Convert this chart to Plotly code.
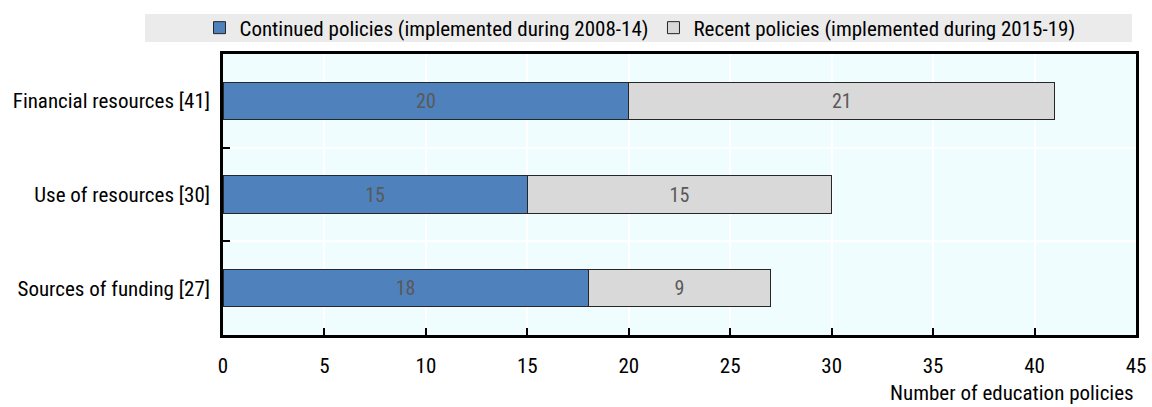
import plotly.graph_objects as go

categories = ["Financial resources [41]", "Use of resources [30]", "Sources of funding [27]"]
continued = [20, 15, 18]
recent = [21, 15, 9]
series_names = [
    "Continued policies (implemented during 2008-14)",
    "Recent policies (implemented during 2015-19)",
]
x_ticks = [0, 5, 10, 15, 20, 25, 30, 35, 40, 45]
x_title = "Number of education policies"

FONT = "Roboto Condensed, Arial Narrow, Roboto, sans-serif"
FS = 21

fig = go.Figure()
for vals, name, color in [
    (continued, series_names[0], "#4f81bd"),
    (recent, series_names[1], "#d9d9d9"),
]:
    fig.add_trace(go.Bar(
        y=categories, x=vals, name=name, orientation="h",
        marker=dict(color=color, line=dict(color="#262626", width=1)),
        text=[str(v) for v in vals], textposition="inside",
        insidetextanchor="middle",
        textfont=dict(color="#595959", size=20, family=FONT),
        width=0.4, hoverinfo="skip",
    ))

W, H = 1152, 407
L, R, T, B = 223, 16, 54, 72
pw, ph = W - L - R, H - T - B

def px_x(x):
    return (x - L) / pw

def px_y(y):
    return (H - B - y) / ph

fig.update_layout(
    width=W, height=H, barmode="stack",
    margin=dict(l=L, r=R, t=T, b=B, autoexpand=False),
    paper_bgcolor="white", plot_bgcolor="#f0fdff",
    font=dict(family=FONT, size=FS, color="black"),
    showlegend=True,
    legend=dict(
        orientation="h", x=px_x(640), xanchor="center",
        y=px_y(28), yanchor="middle",
        bgcolor="rgba(0,0,0,0)", font=dict(size=FS, family=FONT),
        traceorder="normal", itemwidth=30,
    ),
    shapes=[dict(
        type="rect", xref="paper", yref="paper", layer="below",
        x0=px_x(145), x1=px_x(1132), y0=px_y(42), y1=px_y(14),
        fillcolor="#ebebeb", line=dict(width=0),
    )],
    annotations=[dict(
        text=x_title, xref="paper", yref="paper",
        x=1.0, xanchor="right", y=px_y(393), yanchor="middle",
        showarrow=False, font=dict(size=FS, family=FONT),
    )],
    bargap=0.6,
)
fig.update_xaxes(
    range=[0, 45], tickvals=x_ticks, ticks="inside", ticklen=7,
    tickcolor="black", tickwidth=2, showgrid=True, gridcolor="white",
    gridwidth=1.5, showline=True, linecolor="black", linewidth=2.5,
    mirror=True, zeroline=False, tickfont=dict(size=FS), ticklabelstandoff=10,
    automargin=False,
)
fig.update_yaxes(
    categoryorder="array", categoryarray=categories, autorange="reversed",
    ticks="inside", ticklen=7, tickcolor="black", tickwidth=2,
    tickson="boundaries", showgrid=True, gridcolor="white", gridwidth=1.5,
    showline=True, linecolor="black", linewidth=2.5, mirror=True,
    tickfont=dict(size=FS), ticklabelstandoff=6, automargin=False,
)

fig.write_html("out.html")
